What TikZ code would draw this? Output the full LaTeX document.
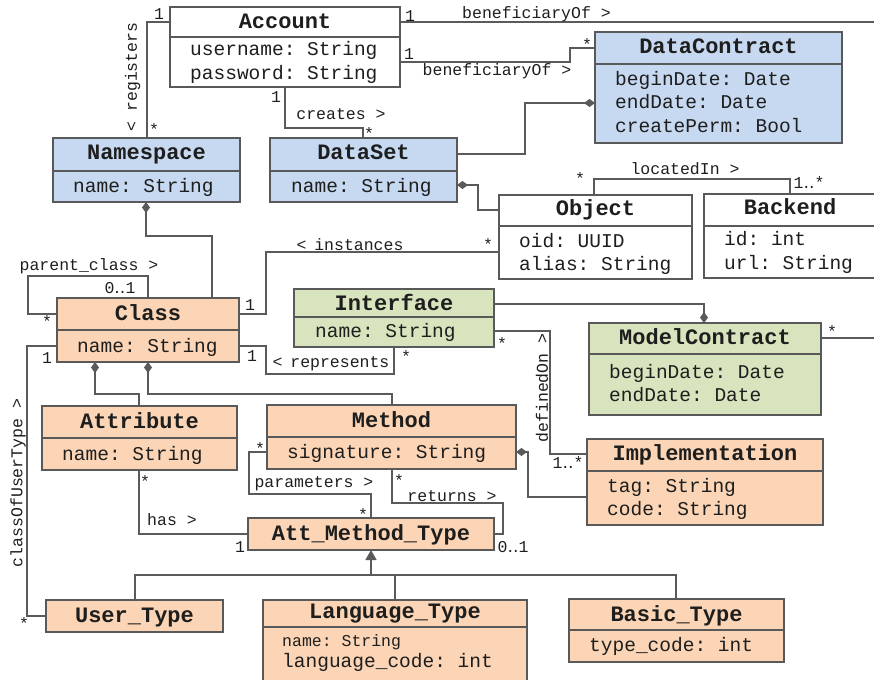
\documentclass[tikz,border=0pt]{standalone}
\usepackage{fontspec}
\newfontfamily\umlmono[PunctuationSpace=0]{Liberation Mono}
\newfontfamily\leaderfont{DejaVu Sans}
\usetikzlibrary{arrows.meta}

\definecolor{bluefill}{HTML}{C6D9F1}
\definecolor{orangefill}{HTML}{FBD5B5}
\definecolor{greenfill}{HTML}{D7E4BD}
\definecolor{boxgray}{HTML}{595959}
\definecolor{linegray}{HTML}{5A5A5A}
\definecolor{textdark}{HTML}{1E1E1E}

\tikzset{
  classbox/.style={draw=boxgray, line width=1.8pt},
  classnode/.style={classbox, rectangle, inner sep=0pt, outer sep=0pt},
  titletext/.style={font=\umlmono\bfseries\fontsize{22}{26}\selectfont, anchor=base, inner sep=0pt, text=textdark},
  attrtext/.style={font=\umlmono\fontsize{19.5}{23}\selectfont, anchor=base west, inner sep=0pt, text=textdark},
  smallattr/.style={attrtext, font=\umlmono\fontsize{16.5}{20}\selectfont},
  lbl/.style={font=\umlmono\fontsize{16.5}{20}\selectfont, inner sep=0pt, text=textdark},
  conn/.style={draw=linegray, line width=1.5pt},
  compstart/.style={{Diamond[length=11pt,width=8pt]}-},
  compend/.style={-{Diamond[length=11pt,width=8pt]}},
  genend/.style={-{Triangle[length=10pt,width=11pt]}},
}

% name, fill, x1, y1, x2, divider y, y2, title baseline, title
\newcommand\umlclass[9]{%
  \pgfmathsetmacro\ucw{#5-#3}\pgfmathsetmacro\uch{#7-#4}%
  \pgfmathsetmacro\ucx{(#3+#5)/2}\pgfmathsetmacro\ucy{(#4+#7)/2}%
  \node[classnode, fill=#2, minimum width=\ucw pt, minimum height=\uch pt] (#1) at (\ucx,\ucy) {};
  \node[titletext] (#1-title) at (\ucx,#8) {#9};
  \draw[classbox] (#3,#6) -- (#5,#6);
}
\newcommand\umlattr[4]{\node[attrtext] (#1) at (#2,#3) {#4};}
\newcommand\twodots{{\leaderfont ‥}}

\begin{document}
\frenchspacing
\begin{tikzpicture}[x=1pt,y=-1pt]
\useasboundingbox (0,0) rectangle (874,679);
\clip (0,0) rectangle (874,679);

% ---------- classes ----------
\umlclass{acc}{white}{170}{7}{400}{37}{87}{29}{Account}
\umlattr{acc-a1}{190}{56}{username: String}
\umlattr{acc-a2}{190}{80}{password: String}

\umlclass{ns}{bluefill}{53}{138}{240}{171}{202}{160}{Namespace}
\umlattr{ns-a1}{73}{192}{name: String}

\umlclass{ds}{bluefill}{270}{138}{457}{171}{202}{160}{DataSet}
\umlattr{ds-a1}{291}{192}{name: String}

\umlclass{dc}{bluefill}{595}{32}{842}{64}{143}{54}{DataContract}
\umlattr{dc-a1}{615}{86}{beginDate: Date}
\umlattr{dc-a2}{615}{109}{endDate: Date}
\umlattr{dc-a3}{615}{133}{createPerm: Bool}

\umlclass{obj}{white}{499}{195}{692}{226}{279}{215}{Object}
\umlattr{obj-a1}{519}{247}{oid: UUID}
\umlattr{obj-a2}{519}{270}{alias: String}

\umlclass{be}{white}{704}{194}{876}{226}{278}{214}{Backend}
\umlattr{be-a1}{724}{245}{id: int}
\umlattr{be-a2}{724}{269}{url: String}

\umlclass{cls}{orangefill}{57}{298}{239}{330}{362}{320}{Class}
\umlattr{cls-a1}{77}{352}{name: String}

\umlclass{if}{greenfill}{294}{289}{494}{317}{347}{310}{Interface}
\umlattr{if-a1}{315}{337}{name: String}

\umlclass{mc}{greenfill}{589}{323}{821}{354}{415}{344}{ModelContract}
\umlattr{mc-a1}{609}{378}{beginDate: Date}
\umlattr{mc-a2}{609}{401}{endDate: Date}

\umlclass{att}{orangefill}{42}{406}{237}{438}{470}{428}{Attribute}
\umlattr{att-a1}{62}{460}{name: String}

\umlclass{meth}{orangefill}{267}{405}{516}{437}{469}{427}{Method}
\umlattr{meth-a1}{287}{458}{signature: String}

\umlclass{impl}{orangefill}{587}{439}{823}{471}{525}{460}{Implementation}
\umlattr{impl-a1}{607}{492}{tag: String}
\umlattr{impl-a2}{607}{515}{code: String}

\umlclass{amt}{orangefill}{248}{518}{494}{550}{550}{540}{Att\_Method\_Type}

\umlclass{ut}{orangefill}{46}{600}{223}{632}{632}{622}{User\_Type}

\umlclass{lt}{orangefill}{263}{600}{527}{627}{690}{618}{Language\_Type}
\node[smallattr] (lt-a1) at (282,646) {name: String};
\umlattr{lt-a2}{282}{667}{language\_code: int}

\umlclass{bt}{orangefill}{569}{599}{784}{630}{662}{621}{Basic\_Type}
\umlattr{bt-a1}{589}{651}{type\_code: int}

% ---------- connectors ----------
\coordinate (offA) at (890,22);
\coordinate (offM) at (890,338);
\coordinate (gen) at (371,575);

\draw[conn] (acc.west |- 0,22) -| (ns.north -| 147,0);
\draw[conn] (acc.south -| 285,0) |- (363,128) -- (ds.north -| 363,0);
\draw[conn] (acc.east |- 0,22) -- (offA);
\draw[conn] (acc.east |- 0,62) -| (570,48) -- (dc.west |- 0,48);
\draw[conn, compend] (ds.east |- 0,154) -| (525,103) -- (dc.west |- 0,103);
\draw[conn, compstart] (ds.east |- 0,185) -| (478,210) -- (obj.west |- 0,210);
\draw[conn] (obj.north -| 594,0) |- (790,179) -- (be.north -| 790,0);
\draw[conn] (cls.east |- 0,314) -| (266,252) -- (obj.west |- 0,252);
\draw[conn] (cls.east |- 0,346) -| (266,374) -| (if.south -| 394,0);
\draw[conn, compend] (if.east |- 0,304) -| (mc.north -| 704,0);
\draw[conn] (if.east |- 0,331) -| (550,454) -- (impl.west |- 0,454);
\draw[conn] (mc.east |- 0,338) -- (offM);
\draw[conn, compstart] (ns.south -| 146,0) |- (212,236) -- (cls.north -| 212,0);
\draw[conn] (cls.west |- 0,314) -| (28,276) -| (cls.north -| 148,0);
\draw[conn] (cls.west |- 0,346) -| (27,616) -- (ut.west |- 0,616);
\draw[conn, compstart] (cls.south -| 95,0) |- (139,394) -- (att.north -| 139,0);
\draw[conn, compstart] (cls.south -| 148,0) |- (392,394) -- (meth.north -| 392,0);
\draw[conn] (meth.west |- 0,452) -| (249,494) -| (amt.north -| 371,0);
\draw[conn] (meth.south -| 392,0) |- (503,503) |- (amt.east |- 0,534);
\draw[conn] (att.south -| 139,0) |- (amt.west |- 0,534);
\draw[conn, compstart] (meth.east |- 0,452) -| (528,497) -- (impl.west |- 0,497);
\draw[conn, genend] (gen) -- (amt.south -| gen);
\draw[conn] (ut.north -| 135,0) |- (gen) -| (bt.north -| 676,0);
\draw[conn] (lt.north -| 395,0) -- (395,575);

% ---------- connector labels ----------
\node[lbl] (l-reg1) at (159,14) {1};
\node[lbl, rotate=90] (l-reg) at (132.5,77) {< registers};
\node[lbl] (l-reg2) at (154,130) {*};
\node[lbl] (l-cr1) at (276,97) {1};
\node[lbl] (l-cr) at (341,114) {creates >};
\node[lbl] (l-cr2) at (369,134) {*};
\node[lbl] (l-bf1) at (410,16) {1};
\node[lbl] (l-bf) at (536.5,14) {beneficiaryOf >};
\node[lbl] (l-bf2a) at (409,54) {1};
\node[lbl] (l-bf2) at (497,71) {beneficiaryOf >};
\node[lbl] (l-bf2b) at (587,45) {*};
\node[lbl] (l-loc1) at (580,179) {*};
\node[lbl] (l-loc) at (685,169) {locatedIn >};
\node[lbl] (l-loc2) at (809,183) {1\twodots*};
\node[lbl] (l-inst) at (350,245) {<\kern-2pt{} instances};
\node[lbl] (l-inst2) at (488,245) {*};
\node[lbl] (l-inst1) at (250,305) {1};
\node[lbl] (l-rep1) at (252,356) {1};
\node[lbl] (l-rep) at (331,364) {<\kern-2pt{} represents};
\node[lbl] (l-rep2) at (406,357) {*};
\node[lbl] (l-def1) at (502,344) {*};
\node[lbl, rotate=90] (l-def) at (542,388) {definedOn >};
\node[lbl] (l-def2) at (568,463) {1\twodots*};
\node[lbl] (l-mc) at (832,332) {*};
\node[lbl] (l-par) at (89,266) {parent\_class >};
\node[lbl] (l-par2) at (120,288) {0\twodots1};
\node[lbl] (l-par1) at (47,322) {*};
\node[lbl] (l-ut1) at (47,358) {1};
\node[lbl, rotate=90] (l-ut) at (18,483) {classOfUserType >};
\node[lbl] (l-ut2) at (24,624) {*};
\node[lbl] (l-has1) at (145,482) {*};
\node[lbl] (l-has) at (172,520) {has >};
\node[lbl] (l-has2) at (240,547) {1};
\node[lbl] (l-prm1) at (260,449) {*};
\node[lbl] (l-prm) at (314,484) {parameters >};
\node[lbl] (l-prm2) at (363,515) {*};
\node[lbl] (l-ret1) at (399,481) {*};
\node[lbl] (l-ret) at (452,496) {returns >};
\node[lbl] (l-ret2) at (513,547) {0\twodots1};
\end{tikzpicture}
\end{document}
